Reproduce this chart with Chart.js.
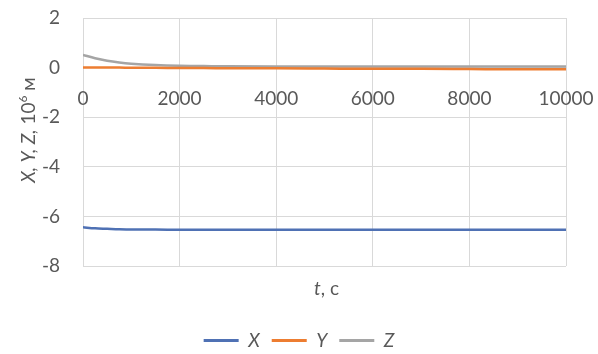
<!DOCTYPE html>
<html>
<head>
<meta charset="utf-8">
<script src="https://cdn.jsdelivr.net/npm/chart.js@4/dist/chart.umd.min.js"></script>
<style>
  html, body { margin: 0; padding: 0; background: #fff; }
  #wrap { width: 598px; height: 354px; position: relative; }
</style>
</head>
<body>
<div id="wrap"><canvas id="c" width="598" height="354"></canvas></div>
<script>
// Time samples, s
const timeS = [0, 250, 500, 750, 1000, 1500, 2000, 2500, 3000, 4000, 5000, 6000, 7000, 8000, 9000, 10000];
// Coordinates, 10^6 m
const seriesX = [-6.44, -6.48, -6.50, -6.52, -6.53, -6.53, -6.54, -6.54, -6.54, -6.54, -6.54, -6.54, -6.54, -6.54, -6.54, -6.54];
const seriesY = [0.00, 0.00, 0.00, 0.00, -0.01, -0.01, -0.02, -0.02, -0.03, -0.03, -0.04, -0.05, -0.05, -0.06, -0.07, -0.07];
const seriesZ = [0.51, 0.38, 0.28, 0.21, 0.16, 0.10, 0.07, 0.06, 0.05, 0.04, 0.04, 0.04, 0.04, 0.04, 0.04, 0.04];
const seriesNames = ['X', 'Y', 'Z'];
const seriesColors = ['#4F71B4', '#ED7D31', '#A5A5A5'];
const xTicks = [0, 2000, 4000, 6000, 8000, 10000];
const yTicks = [-8, -6, -4, -2, 0, 2];

const FONT = 'Lato, "Open Sans", sans-serif';
const TEXT = '#595959';
const GRID = '#D9D9D9';

const pts = vals => timeS.map((t, i) => ({ x: t, y: vals[i] }));
const allSeries = [seriesX, seriesY, seriesZ];

// Axis titles with mixed italic / upright runs
const axisTitles = {
  id: 'axisTitles',
  afterDraw(chart) {
    const ctx = chart.ctx;
    const drawRuns = (runs, cx, cy, rotate) => {
      ctx.save();
      ctx.translate(cx, cy);
      if (rotate) ctx.rotate(-Math.PI / 2);
      ctx.fillStyle = TEXT;
      ctx.textBaseline = 'alphabetic';
      ctx.textAlign = 'left';
      let total = 0;
      runs.forEach(r => { ctx.font = r.font; total += ctx.measureText(r.text).width; });
      let x = -total / 2;
      runs.forEach(r => {
        ctx.font = r.font;
        ctx.fillText(r.text, x, r.dy || 0);
        x += ctx.measureText(r.text).width;
      });
      ctx.restore();
    };
    drawRuns([
      { text: 'X, Y, Z,', font: 'italic 19px ' + FONT, dy: 7 },
      { text: ' 10', font: '19px ' + FONT, dy: 7 },
      { text: '6', font: '12px ' + FONT, dy: -1 },
      { text: ' м', font: '19px ' + FONT, dy: 7 }
    ], 28, 130, true);
    const xa = chart.chartArea;
    drawRuns([
      { text: 't', font: 'italic 19px ' + FONT, dy: 7 },
      { text: ', с', font: '19px ' + FONT, dy: 7 }
    ], (xa.left + xa.right) / 2 + 2, 288, false);
  }
};

new Chart(document.getElementById('c'), {
  type: 'line',
  data: {
    datasets: allSeries.map((vals, i) => ({
      label: seriesNames[i],
      data: pts(vals),
      borderColor: seriesColors[i],
      backgroundColor: seriesColors[i],
      borderWidth: 2.5,
      pointRadius: 0,
      tension: 0.4,
      cubicInterpolationMode: 'monotone',
      xAxisID: 'x',
      yAxisID: 'y'
    }))
  },
  options: {
    responsive: false,
    animation: false,
    layout: { padding: { left: 0, right: 0, top: 18, bottom: -6 } },
    scales: {
      x: {
        type: 'linear',
        position: { y: 0 },
        min: 0, max: 10000,
        afterBuildTicks(s) { s.ticks = xTicks.map(v => ({ value: v })); },
        afterFit(s) { s.paddingLeft = 0; s.paddingRight = 32; },
        grid: { color: GRID, lineWidth: 1, drawTicks: false },
        border: { display: false },
        ticks: {
          color: TEXT, font: { family: FONT, size: 19 }, padding: 20, maxRotation: 0, autoSkip: false,
          callback: v => String(v)
        }
      },
      xSpace: {
        type: 'linear',
        position: 'bottom',
        min: 0, max: 1,
        display: true,
        grid: { display: false, drawTicks: false },
        border: { display: false },
        ticks: { display: false },
        afterFit(s) { s.height = 53; s.paddingLeft = 0; s.paddingRight = 0; }
      },
      y: {
        type: 'linear',
        min: -8, max: 2,
        afterBuildTicks(s) { s.ticks = yTicks.map(v => ({ value: v })); },
        grid: { color: GRID, lineWidth: 1, drawTicks: false },
        border: { display: false },
        ticks: { color: TEXT, font: { family: FONT, size: 19 }, padding: 23 },
        afterFit(s) { s.width = 83; s.paddingTop = 0; s.paddingBottom = 0; }
      }
    },
    plugins: {
      tooltip: { enabled: false },
      legend: {
        position: 'bottom',
        labels: {
          color: TEXT,
          font: { family: FONT, size: 19, style: 'italic' },
          boxWidth: 35,
          boxHeight: 3,
          padding: 12,
          generateLabels(chart) {
            return chart.data.datasets.map((d, i) => ({
              text: d.label,
              fillStyle: d.borderColor,
              strokeStyle: d.borderColor,
              lineWidth: 0,
              fontColor: TEXT,
              hidden: false,
              datasetIndex: i
            }));
          }
        }
      }
    }
  },
  plugins: [axisTitles]
});
</script>
</body>
</html>
